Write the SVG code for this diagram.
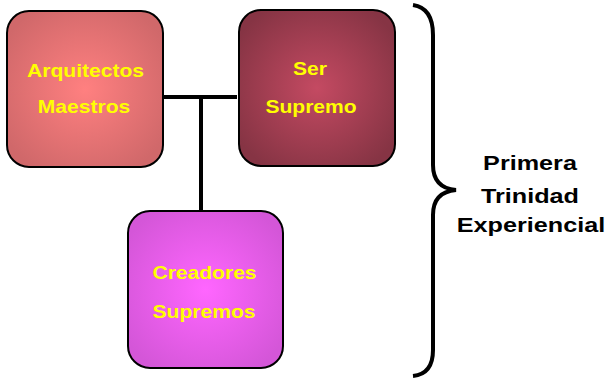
<svg xmlns="http://www.w3.org/2000/svg" width="610" height="380" viewBox="0 0 610 380">
<defs>
<radialGradient id="g1" cx="50%" cy="50%" r="60%"><stop offset="0" stop-color="#FF8080"/><stop offset="1" stop-color="#D0686A"/></radialGradient>
<radialGradient id="g2" cx="50%" cy="50%" r="60%"><stop offset="0" stop-color="#C44A62"/><stop offset="1" stop-color="#863444"/></radialGradient>
<radialGradient id="g3" cx="50%" cy="50%" r="60%"><stop offset="0" stop-color="#FF66FF"/><stop offset="1" stop-color="#D456D8"/></radialGradient>
</defs>
<style>
.box{stroke:#000;stroke-width:2}
.lbl{font-family:"Liberation Sans",Arial,sans-serif;font-weight:bold;font-size:18px;fill:#FFFF00;text-anchor:middle}
.side{font-family:"Liberation Sans",Arial,sans-serif;font-weight:bold;font-size:21px;fill:#000;text-anchor:middle}
.conn{stroke:#000;stroke-width:4;fill:none}
</style>
<g id="connectors">
<line class="conn" x1="163" y1="97" x2="237" y2="97"/>
<line class="conn" x1="201" y1="97" x2="201" y2="211"/>
</g>
<g id="arquitectos">
<rect class="box" x="7" y="11" width="156" height="156" rx="22" fill="url(#g1)"/>
<text class="lbl" transform="translate(85.5,77) scale(1.17,1)">Arquitectos</text>
<text class="lbl" transform="translate(84,113) scale(1.17,1)">Maestros</text>
</g>
<g id="ser">
<rect class="box" x="239" y="10" width="156" height="156" rx="22" fill="url(#g2)"/>
<text class="lbl" transform="translate(310,75) scale(1.17,1)">Ser</text>
<text class="lbl" transform="translate(311,113) scale(1.17,1)">Supremo</text>
</g>
<g id="creadores">
<rect class="box" x="128" y="211" width="155" height="157" rx="22" fill="url(#g3)"/>
<text class="lbl" transform="translate(204.5,279) scale(1.17,1)">Creadores</text>
<text class="lbl" transform="translate(204,318) scale(1.17,1)">Supremos</text>
</g>
<g id="brace">
<path d="M413,5 Q433,8 433,35 L433,165 Q433,188 456,190 Q433,192 433,215 L433,350 Q433,374 413,376" fill="none" stroke="#000" stroke-width="4"/>
<text class="side" transform="translate(530,170) scale(1.2,1)">Primera</text>
<text class="side" transform="translate(530,203) scale(1.2,1)">Trinidad</text>
<text class="side" transform="translate(531,232) scale(1.2,1)">Experiencial</text>
</g>
</svg>
